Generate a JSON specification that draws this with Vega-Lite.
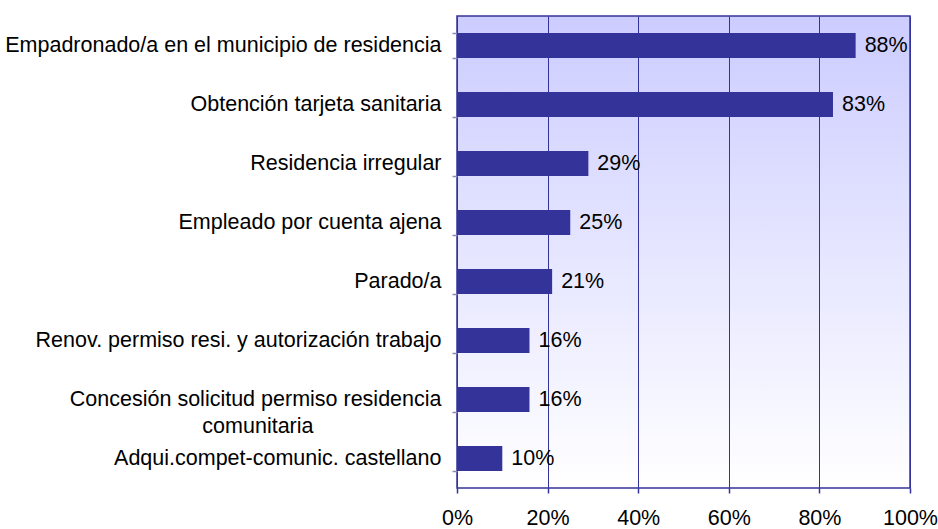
{
  "$schema": "https://vega.github.io/schema/vega-lite/v6.json",
  "autosize": {"type": "none"},
  "padding": {"left": 457, "top": 16, "right": 28, "bottom": 41},
  "width": 453,
  "height": 472,
  "background": "#ffffff",
  "config": {
    "font": "Liberation Sans",
    "view": {
      "stroke": "#333399",
      "strokeWidth": 1.5,
      "fill": {
        "gradient": "linear",
        "x1": 0, "y1": 0, "x2": 0, "y2": 1,
        "stops": [
          {"offset": 0, "color": "#ccccff"},
          {"offset": 1, "color": "#ffffff"}
        ]
      }
    }
  },
  "data": {
    "values": [
      {"categoria": "Empadronado/a en el municipio de residencia", "valor": 0.88},
      {"categoria": "Obtención tarjeta sanitaria", "valor": 0.83},
      {"categoria": "Residencia irregular", "valor": 0.29},
      {"categoria": "Empleado por cuenta ajena", "valor": 0.25},
      {"categoria": "Parado/a", "valor": 0.21},
      {"categoria": "Renov. permiso resi. y autorización trabajo", "valor": 0.16},
      {"categoria": "Concesión solicitud permiso residencia|comunitaria", "valor": 0.16},
      {"categoria": "Adqui.compet-comunic. castellano", "valor": 0.10}
    ]
  },
  "layer": [
    {
      "mark": {"type": "bar", "color": "#333399"},
      "encoding": {
        "y": {
          "field": "categoria",
          "type": "nominal",
          "sort": null,
          "scale": {"paddingInner": 0.58, "paddingOuter": 0.29},
          "axis": {
            "title": null,
            "domain": false,
            "grid": false,
            "tickBand": "extent",
            "tickSize": 5,
            "tickColor": "#8888bb",
            "tickWidth": 1.5,
            "labelPadding": 11,
            "labelFontSize": 21.5,
            "labelColor": "#000000",
            "labelLimit": 460,
            "labelLineHeight": 27,
            "labelExpr": "indexof(datum.label, '|') >= 0 ? [split(datum.label, '|')[0], split(datum.label, '|')[1] + '\u2800\u2800\u2800\u2800\u2800\u2800\u2800\u2800'] : datum.label"
          }
        },
        "x": {
          "field": "valor",
          "type": "quantitative",
          "scale": {"domain": [0, 1], "nice": false},
          "axis": {
            "title": null,
            "format": ".0%",
            "values": [0, 0.2, 0.4, 0.6, 0.8, 1],
            "domain": false,
            "grid": true,
            "gridColor": "#333399",
            "gridOpacity": 1,
            "gridWidth": 1,
            "tickSize": 5,
            "tickColor": "#333399",
            "tickWidth": 1.5,
            "labelPadding": 14,
            "labelFontSize": 21.5,
            "labelColor": "#000000",
            "labelFlush": false
          }
        }
      }
    },
    {
      "mark": {"type": "text", "align": "left", "baseline": "middle", "dx": 9, "fontSize": 21.5, "color": "#000000"},
      "encoding": {
        "y": {"field": "categoria", "type": "nominal", "sort": null},
        "x": {"field": "valor", "type": "quantitative"},
        "text": {"field": "valor", "type": "quantitative", "format": ".0%"}
      }
    }
  ]
}
